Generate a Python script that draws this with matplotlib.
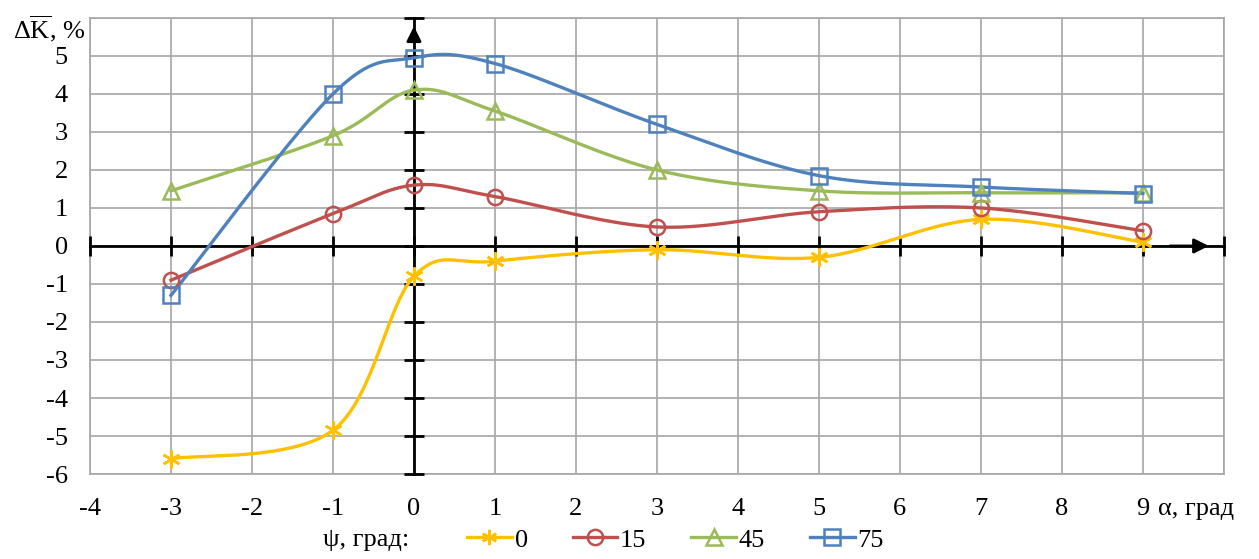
import numpy as np
import matplotlib
matplotlib.use("Agg")
import matplotlib.pyplot as plt

plt.rcParams['font.family'] = ['Liberation Serif', 'DejaVu Serif']
plt.rcParams['mathtext.fontset'] = 'custom'
plt.rcParams['mathtext.rm'] = 'Liberation Serif'
plt.rcParams['mathtext.it'] = 'Liberation Serif:italic'

# data
alpha = [-3, -1, 0, 1, 3, 5, 7, 9]
psi_0 = [-5.6, -4.85, -0.8, -0.4, -0.1, -0.3, 0.7, 0.1]
psi_15 = [-0.9, 0.85, 1.6, 1.3, 0.5, 0.9, 1.0, 0.4]
psi_45 = [1.45, 2.9, 4.1, 3.55, 2.0, 1.45, 1.4, 1.4]
psi_75 = [-1.3, 4.0, 4.95, 4.8, 3.2, 1.85, 1.55, 1.38]

series = [("0", psi_0, "#FFC000", (6, 2, 0)),
          ("15", psi_15, "#C0504D", "o"),
          ("45", psi_45, "#9BBB59", "^"),
          ("75", psi_75, "#4F81BD", "s")]

x_ticks = list(range(-4, 10))
y_ticks = list(range(-6, 6))


def smooth(xs, ys, n=40):
    # Excel-like smoothed line (Bezier with Catmull-Rom control points)
    p = np.column_stack([xs, ys]).astype(float)
    p = np.vstack([p[0], p, p[-1]])
    out = []
    t = np.linspace(0, 1, n)[:, None]
    for i in range(1, len(p) - 2):
        p0, p1, p2, p3 = p[i - 1], p[i], p[i + 1], p[i + 2]
        c1 = p1 + (p2 - p0) / 6
        c2 = p2 - (p3 - p1) / 6
        b = ((1 - t) ** 3) * p1 + 3 * ((1 - t) ** 2) * t * c1 + 3 * (1 - t) * t ** 2 * c2 + t ** 3 * p2
        out.append(b)
    b = np.vstack(out)
    return b[:, 0], b[:, 1]


fs = 19
fig = plt.figure(figsize=(12.59, 5.59), dpi=100)
ax = fig.add_axes([0.0715, 0.152, 0.9005, 0.816])
ax.set_xlim(-4, 10)
ax.set_ylim(-6, 6)
ax.set_xticks(range(-4, 11))
ax.set_yticks(range(-6, 7))
ax.grid(True, color="#A6A6A6", lw=1.2)
ax.set_axisbelow(True)
for s in ax.spines.values():
    s.set_color("#A6A6A6")
    s.set_linewidth(1.2)
ax.tick_params(length=0, labelsize=fs)
ax.tick_params(axis="x", pad=17)
ax.tick_params(axis="y", pad=16)
ax.set_xticklabels([str(v) for v in x_ticks] + [""])
ax.set_yticklabels([str(v) for v in y_ticks] + [""])

# black axes through zero
ax.plot([-4, 10], [0, 0], color="k", lw=2, zorder=3, clip_on=False)
ax.plot([0, 0], [-6, 6], color="k", lw=2, zorder=3, clip_on=False)
ax.plot([0] * 13, range(-6, 7), ls="none", marker="_", ms=14, mew=2, color="k", zorder=3, clip_on=False)
ax.plot(range(-4, 11), [0] * 15, ls="none", marker="|", ms=14, mew=2, color="k", zorder=3, clip_on=False)
ax.annotate("", xy=(9.85, 0), xytext=(9.3, 0),
            arrowprops=dict(arrowstyle="-|>", color="k", lw=2, mutation_scale=22), zorder=4)
ax.annotate("", xy=(0, 5.85), xytext=(0, 5.3),
            arrowprops=dict(arrowstyle="-|>", color="k", lw=2, mutation_scale=22), zorder=4)

handles = []
for name, ys, col, mk in series:
    sx, sy = smooth(alpha, ys)
    ax.plot(sx, sy, color=col, lw=2.4, zorder=5)
    ax.plot(alpha, ys, ls="none", marker=mk, ms=11 if mk != (6, 2, 0) else 13,
            mfc="none", mec=col, mew=1.8, zorder=6)
    h, = ax.plot([], [], color=col, lw=2.4, marker=mk, ms=11, mfc="none", mec=col, mew=1.8)
    handles.append(h)

ax.text(-4.06, 5.72, r"$\Delta\overline{\mathrm{K}}$, %", ha="right", va="center", fontsize=fs)
ax.annotate("α, град", xy=(9.19, 0), xycoords=("data", "axes fraction"),
            xytext=(0, -17), textcoords="offset points", ha="left", va="top", fontsize=fs)

fig.text(0.2566, 0.034, "ψ, град:", ha="left", va="center", fontsize=fs)
fig.legend(handles, [s[0] for s in series], loc="center left", bbox_to_anchor=(0.3605, 0.034),
           ncol=4, frameon=False, fontsize=fs, handlelength=1.7, handletextpad=0.1,
           columnspacing=1.7, borderpad=0)

fig.savefig("out.png", dpi=100)
